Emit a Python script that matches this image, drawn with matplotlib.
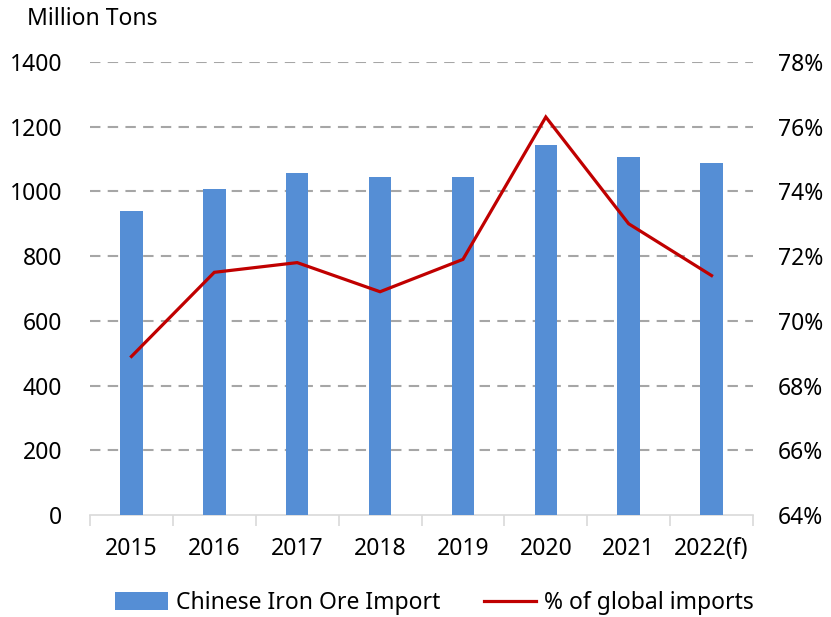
import matplotlib
matplotlib.use("Agg")
import matplotlib.pyplot as plt
import numpy as np
from matplotlib.patches import Patch
from matplotlib.lines import Line2D

plt.rcParams['font.family'] = ['Noto Sans', 'DejaVu Sans']

years = ['2015', '2016', '2017', '2018', '2019', '2020', '2021', '2022(f)']
imports_mt = [939, 1007, 1057, 1045, 1045, 1143, 1106, 1088]
share_pct = [68.9, 71.5, 71.8, 70.9, 71.9, 76.3, 73.0, 71.4]
left_ticks = [0, 200, 400, 600, 800, 1000, 1200, 1400]
right_ticks = [64, 66, 68, 70, 72, 74, 76, 78]

bar_color = '#558ED5'
line_color = '#C00000'
grid_color = '#A6A6A6'
text_color = '#000000'
fs = 16.5

fig = plt.figure(figsize=(8.31, 6.17), dpi=100)
ax = fig.add_axes([90/831, 1-515/617, (753-90)/831, (515-62)/617])
x = np.arange(len(years))
ax.bar(x, imports_mt, width=0.27, color=bar_color, zorder=3)
ax.set_xlim(-0.5, len(years)-0.5)
ax.set_ylim(0, 1400)
ax.set_yticks(left_ticks)
ax.set_yticklabels([str(t) for t in left_ticks], fontsize=fs, color=text_color)
for t in left_ticks[1:]:
    ax.axhline(t, color=grid_color, lw=1.5, ls=(0, (5, 3.5)), zorder=1)
for s in ['left', 'right', 'top']:
    ax.spines[s].set_visible(False)
ax.spines['bottom'].set_color('#D9D9D9')
ax.spines['bottom'].set_linewidth(1.2)
ax.tick_params(axis='y', length=0, pad=20)
ax.set_xticks(x)
ax.set_xticklabels(years, fontsize=fs, color=text_color)
ax.tick_params(axis='x', length=0, pad=16)
ax.set_xticks(np.arange(len(years)+1)-0.5, minor=True)
ax.tick_params(axis='x', which='minor', length=8, color='#D9D9D9', width=1.2)

ax2 = ax.twinx()
ax2.plot(x, share_pct, color=line_color, lw=2.3, zorder=4, solid_joinstyle='miter')
ax2.set_ylim(64, 78)
ax2.set_yticks(right_ticks)
ax2.set_yticklabels([f'{t}%' for t in right_ticks], fontsize=fs, color=text_color)
ax2.tick_params(axis='y', length=0, pad=18)
for s in ['left', 'right', 'top', 'bottom']:
    ax2.spines[s].set_visible(False)

fig.text(27/831, 1-19/617, 'Million Tons', fontsize=fs, va='center', ha='left', color=text_color)

handles = [Patch(facecolor=bar_color, edgecolor='none'),
           Line2D([0], [0], color=line_color, lw=2.3)]
fig.legend(handles, ['Chinese Iron Ore Import', '% of global imports'],
           loc='center', bbox_to_anchor=(0.523, 1-603/617), ncol=2, frameon=False,
           fontsize=fs, handlelength=2.3, handleheight=0.8, columnspacing=1.9,
           handletextpad=0.35)

fig.savefig('out.png', dpi=100)
